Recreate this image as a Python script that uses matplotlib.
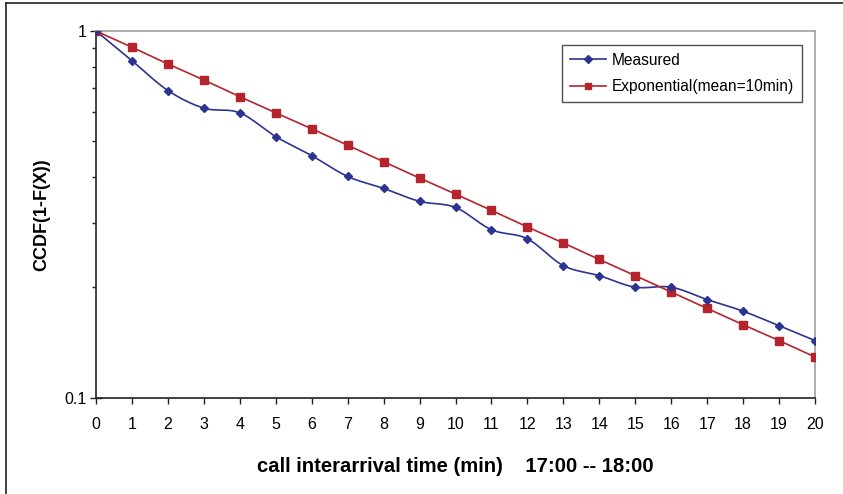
import numpy as np
import matplotlib
matplotlib.use('Agg')
import matplotlib.pyplot as plt
from matplotlib.ticker import FixedLocator, NullFormatter
from matplotlib.lines import Line2D

minutes = list(range(21))
measured = [1.0, 0.830, 0.688, 0.616, 0.598, 0.515, 0.457, 0.401, 0.372, 0.343,
            0.330, 0.287, 0.271, 0.229, 0.215, 0.200, 0.200, 0.185, 0.172, 0.157, 0.143]
exponential = [1.0, 0.903, 0.813, 0.735, 0.662, 0.598, 0.541, 0.488, 0.440, 0.397,
               0.359, 0.324, 0.292, 0.264, 0.238, 0.215, 0.194, 0.175, 0.158, 0.143, 0.129]

blue = '#2b3491'
red = '#b5242c'


def smooth(x, y, n=12):
    # Catmull-Rom curve through the points, done in log space so it bends like the log axis
    x = np.asarray(x, float)
    ly = np.log10(np.asarray(y, float))
    px = np.concatenate([[2 * x[0] - x[1]], x, [2 * x[-1] - x[-2]]])
    py = np.concatenate([[2 * ly[0] - ly[1]], ly, [2 * ly[-1] - ly[-2]]])
    xs, ys = [], []
    t = np.linspace(0, 1, n, endpoint=False)
    for i in range(1, len(px) - 2):
        for arr, out in ((px, xs), (py, ys)):
            p0, p1, p2, p3 = arr[i - 1:i + 3]
            out.extend(0.5 * (2 * p1 + (-p0 + p2) * t + (2 * p0 - 5 * p1 + 4 * p2 - p3) * t ** 2
                              + (-p0 + 3 * p1 - 3 * p2 + p3) * t ** 3))
    xs.append(x[-1])
    ys.append(ly[-1])
    return np.array(xs), 10 ** np.array(ys)


plt.rcParams['font.family'] = ['Liberation Sans', 'DejaVu Sans']

fig = plt.figure(figsize=(8.43, 4.94), dpi=100)
ax = fig.add_axes([96 / 843, 1 - 397.5 / 494, (815 - 96) / 843, (397.5 - 31) / 494])

# outer frame of the chart object
fig.add_artist(Line2D([6 / 843, 6 / 843], [-0.05, 1 - 3 / 494], color='#222222', lw=1.2))
fig.add_artist(Line2D([6 / 843, 1.05], [1 - 3 / 494, 1 - 3 / 494], color='#222222', lw=1.2))

sx, sy = smooth(minutes, measured)
ax.plot(sx, sy, color=blue, lw=1.2, zorder=3)
ax.plot(minutes, measured, ls='none', marker='D', ms=4.5, color=blue, zorder=4)
ax.plot(minutes, exponential, color=red, lw=1.2, marker='s', ms=6, zorder=3)

ax.set_yscale('log')
ax.set_ylim(0.1, 1)
ax.set_xlim(0, 20)
ax.set_xticks(minutes)
ax.set_xticklabels([str(m) for m in minutes], fontsize=11.5)
ax.yaxis.set_major_locator(FixedLocator([0.1, 1]))
ax.set_yticklabels(['0.1', '1'], fontsize=11.5)
ax.yaxis.set_minor_locator(FixedLocator([0.2, 0.3, 0.4, 0.5, 0.6, 0.7, 0.8, 0.9]))
ax.yaxis.set_minor_formatter(NullFormatter())
ax.tick_params(axis='y', which='major', direction='inout', length=8, width=1, color='#222222', pad=3)
ax.tick_params(axis='y', which='minor', direction='out', length=3, width=1, color='#222222')
ax.tick_params(axis='x', direction='out', length=4, width=1, color='#222222', pad=10)

for side in ('top', 'right'):
    ax.spines[side].set_color('#a0a0a0')
    ax.spines[side].set_linewidth(1.2)
for side in ('left', 'bottom'):
    ax.spines[side].set_color('#222222')
    ax.spines[side].set_linewidth(1.2)

ax.set_ylabel('CCDF(1-F(X))', fontsize=13, fontweight='bold', labelpad=10)
ax.set_xlabel('call interarrival time (min)    17:00 -- 18:00', fontsize=14.6, fontweight='bold',
              labelpad=18)

handles = [Line2D([], [], color=blue, lw=1.2, marker='D', ms=4),
           Line2D([], [], color=red, lw=1.2, marker='s', ms=5)]
leg = ax.legend(handles, ['Measured', 'Exponential(mean=10min)'], loc='upper right',
                bbox_to_anchor=(802 / 843, 1 - 45 / 494), bbox_transform=fig.transFigure,
                borderaxespad=0, fontsize=11.2, frameon=True, fancybox=False, edgecolor='#222222',
                handlelength=2.3, borderpad=0.5, labelspacing=0.75, handletextpad=0.4)
leg.get_frame().set_linewidth(1.0)

fig.savefig('out.png', dpi=100)
